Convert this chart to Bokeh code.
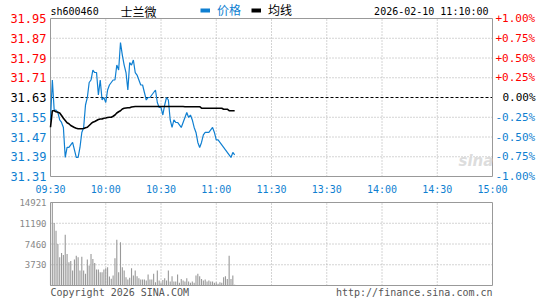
from bokeh.plotting import figure
from bokeh.models import (Range1d, FixedTicker, LinearAxis, Label, Legend, LegendItem)
from bokeh.embed import file_html
from bokeh.resources import INLINE

# ---------------- data ----------------
stock_code = "sh600460"
stock_name = "士兰微"
timestamp = "2026-02-10 11:10:00"
prev_close = 31.63

price_tick_labels = ["31.95", "31.87", "31.79", "31.71", "31.63", "31.55", "31.47", "31.39", "31.31"]
pct_tick_labels = ["+1.00%", "+0.75%", "+0.50%", "+0.25%", "0.00%", "-0.25%", "-0.50%", "-0.75%", "-1.00%"]
time_tick_minutes = [0, 30, 60, 90, 120, 150, 180, 210, 240]
time_tick_labels = ["09:30", "10:00", "10:30", "11:00", "11:30", "13:30", "14:00", "14:30", "15:00"]
vol_tick_values = [3730, 7460, 11190, 14921]

minutes = list(range(101))

prices = [31.54, 31.70, 31.58, 31.58, 31.57, 31.54, 31.53, 31.51, 31.39, 31.43,
          31.43, 31.44, 31.45, 31.42, 31.39, 31.39, 31.43, 31.49, 31.51, 31.60,
          31.63, 31.69, 31.70, 31.74, 31.73, 31.73, 31.64, 31.70, 31.62, 31.63,
          31.61, 31.66, 31.68, 31.69, 31.70, 31.70, 31.76, 31.74, 31.85, 31.80,
          31.76, 31.73, 31.66, 31.77, 31.76, 31.78, 31.73, 31.72, 31.70, 31.68,
          31.68, 31.65, 31.62, 31.63, 31.63, 31.64, 31.65, 31.66, 31.61, 31.59,
          31.59, 31.56, 31.60, 31.63, 31.62, 31.54, 31.51, 31.54, 31.53, 31.53,
          31.52, 31.51, 31.53, 31.55, 31.57, 31.55, 31.56, 31.54, 31.51, 31.49,
          31.45, 31.43, 31.45, 31.48, 31.49, 31.49, 31.49, 31.50, 31.51, 31.49,
          31.46, 31.46, 31.45, 31.44, 31.43, 31.42, 31.41, 31.40, 31.39, 31.41,
          31.40]

avg_prices = [31.511, 31.577, 31.577, 31.573, 31.571, 31.568, 31.558, 31.547, 31.538, 31.529,
              31.525, 31.518, 31.514, 31.510, 31.507, 31.505, 31.505, 31.505, 31.506, 31.509,
              31.511, 31.518, 31.525, 31.531, 31.534, 31.538, 31.542, 31.544, 31.544, 31.547,
              31.548, 31.550, 31.551, 31.551, 31.555, 31.560, 31.568, 31.573, 31.577, 31.584,
              31.587, 31.588, 31.589, 31.589, 31.592, 31.593, 31.594, 31.594, 31.594, 31.594,
              31.594, 31.594, 31.594, 31.594, 31.594, 31.594, 31.594, 31.594, 31.594, 31.594,
              31.594, 31.594, 31.594, 31.594, 31.594, 31.594, 31.594, 31.594, 31.594, 31.594,
              31.594, 31.594, 31.594, 31.593, 31.593, 31.593, 31.593, 31.593, 31.593, 31.593,
              31.593, 31.593, 31.587, 31.587, 31.587, 31.587, 31.587, 31.587, 31.587, 31.587,
              31.587, 31.587, 31.587, 31.587, 31.583, 31.583, 31.583, 31.577, 31.577, 31.577,
              31.577]

volumes = [4660, 14921, 11220, 9850, 7460, 5070, 5850, 5490, 9130, 5670,
           4180, 4420, 2690, 4660, 5370, 5070, 2690, 5190, 2690, 2090,
           4660, 3580, 5670, 4780, 4060, 2870, 2870, 2390, 2390, 2870,
           3100, 3280, 1610, 1200, 1790, 4900, 8240, 2390, 7760, 3280,
           2690, 1490, 1070, 1400, 3100, 1790, 2690, 1670, 1310, 1070,
           1070, 1070, 900, 1970, 1070, 1070, 2090, 600, 2690, 900,
           480, 1010, 1310, 900, 2690, 720, 1670, 720, 720, 1970,
           480, 1190, 900, 720, 1310, 720, 480, 720, 480, 1790,
           2090, 1670, 1190, 900, 1070, 720, 900, 720, 720, 480,
           600, 300, 600, 480, 1490, 1670, 1190, 5370, 1190, 1790,
           120]

# ---------------- styles / geometry ----------------
BLUE = "#0f7fd1"
RED = "#ff0000"
GRID = "#a8a8a8"
BORDER = "#999999"
MONO = "DejaVu Sans Mono"
CJK = "Noto Sans CJK SC"

W, H = 545, 300
LEFT_PX, BOX_W_PX, RIGHT_PX = 50, 442, 53
PRICE_TOP_PX, PRICE_H_PX = 18, 158
VOL_H_PX, VOL_BOTTOM_PX = 83, 15

half = prev_close * 0.01
y_lo, y_hi = prev_close - half, prev_close + half
n = len(price_tick_labels)
mid = n // 2
tick_y = [y_hi - i * (y_hi - y_lo) / (n - 1) for i in range(n)]
vmax = vol_tick_values[-1]

ppm = BOX_W_PX / 240.0
upp = (y_hi - y_lo) / PRICE_H_PX
vpp = vmax / VOL_H_PX

x_range = Range1d(-LEFT_PX / ppm, 240 + RIGHT_PX / ppm)
price_range = Range1d(y_lo - (H - PRICE_TOP_PX - PRICE_H_PX) * upp, y_hi + PRICE_TOP_PX * upp)
vol_range = Range1d(-VOL_BOTTOM_PX * vpp, vmax + (H - VOL_BOTTOM_PX - VOL_H_PX) * vpp)


def style_axis(ax, color, size, standoff):
    ax.axis_line_color = None
    ax.major_tick_line_color = None
    ax.minor_tick_line_color = None
    ax.major_tick_out = 0
    ax.major_tick_in = 0
    ax.minor_tick_out = 0
    ax.major_label_text_color = color
    ax.major_label_text_font = MONO
    ax.major_label_text_font_size = size
    ax.major_label_standoff = standoff


p = figure(width=W, height=H, x_range=x_range, y_range=price_range,
           output_backend="svg", toolbar_location=None,
           x_axis_location=None, y_axis_location=None,
           min_border_left=0, min_border_right=0, min_border_top=0, min_border_bottom=0)
p.extra_y_ranges = {"vol": vol_range}
p.outline_line_color = None
p.grid.visible = False
p.background_fill_color = "white"
p.border_fill_color = "white"

# ---------------- axes ----------------
time_ax = LinearAxis(fixed_location=y_lo, ticker=FixedTicker(ticks=time_tick_minutes),
                     major_label_overrides={m: t for m, t in zip(time_tick_minutes, time_tick_labels)})
style_axis(time_ax, BLUE, "10px", 7)
p.add_layout(time_ax, "below")

groups = [(range(0, mid), RED, 3), (range(mid, mid + 1), "black", 10), (range(mid + 1, n), BLUE, 3)]
for idx, col, right_standoff in groups:
    ticks = [tick_y[i] for i in idx]
    left_ax = LinearAxis(fixed_location=0, ticker=FixedTicker(ticks=ticks),
                         major_label_overrides={tick_y[i]: price_tick_labels[i] for i in idx})
    style_axis(left_ax, col, "12px", 4)
    p.add_layout(left_ax, "left")
    right_ax = LinearAxis(fixed_location=240, ticker=FixedTicker(ticks=ticks),
                          major_label_overrides={tick_y[i]: pct_tick_labels[i] for i in idx})
    style_axis(right_ax, col, "11px", right_standoff)
    p.add_layout(right_ax, "right")

vol_ax = LinearAxis(fixed_location=0, y_range_name="vol", ticker=FixedTicker(ticks=vol_tick_values))
style_axis(vol_ax, "#888888", "9px", 4)
p.add_layout(vol_ax, "left")

# ---------------- price box ----------------
inner_y = [tick_y[i] for i in range(1, n - 1) if i != mid]
p.segment(x0=[0] * len(inner_y), x1=[240] * len(inner_y), y0=inner_y, y1=inner_y,
          line_color=GRID, line_dash="1 2", line_width=1)
inner_x = time_tick_minutes[1:-1]
p.segment(x0=inner_x, x1=inner_x, y0=[y_lo] * len(inner_x), y1=[y_hi] * len(inner_x),
          line_color=GRID, line_dash="1 2", line_width=1)
p.segment(x0=[0], x1=[240], y0=[prev_close], y1=[prev_close],
          line_color="black", line_dash="3 2", line_width=1)
p.quad(left=[0], right=[240], bottom=[y_lo], top=[y_hi], fill_alpha=0,
       line_color=BORDER, line_width=1)

p.line(minutes, prices, line_color=BLUE, line_width=1.2)
p.line(minutes, avg_prices, line_color="black", line_width=1.6)

# ---------------- volume box ----------------
inner_v = vol_tick_values[:-1]
p.segment(x0=[0] * len(inner_v), x1=[240] * len(inner_v), y0=inner_v, y1=inner_v,
          line_color=GRID, line_dash="1 2", line_width=1, y_range_name="vol")
p.segment(x0=inner_x, x1=inner_x, y0=[0] * len(inner_x), y1=[vmax] * len(inner_x),
          line_color=GRID, line_dash="1 2", line_width=1, y_range_name="vol")
p.vbar(x=minutes, top=volumes, width=0.6, fill_color="#999999", line_color=None,
       y_range_name="vol")
p.quad(left=[0], right=[240], bottom=[0], top=[vmax], fill_alpha=0,
       line_color=BORDER, line_width=1, y_range_name="vol")

# ---------------- header / footer texts ----------------
hy = H - 11
p.add_layout(Label(x=LEFT_PX, y=hy, x_units="screen", y_units="screen", text=stock_code,
                   text_font=MONO, text_font_size="10px", text_baseline="middle",
                   text_color="black"))
p.add_layout(Label(x=120, y=hy, x_units="screen", y_units="screen", text=stock_name,
                   text_font=CJK, text_font_size="12px", text_baseline="middle",
                   text_color="black"))
p.add_layout(Label(x=488, y=hy, x_units="screen", y_units="screen", text=timestamp,
                   text_font=MONO, text_font_size="10px", text_baseline="middle",
                   text_align="right", text_color="black"))

leg_price = p.line(minutes, prices, line_color=BLUE, line_width=4, visible=False)
leg_avg = p.line(minutes, avg_prices, line_color="black", line_width=4, visible=False)
for rend, lab, col, xpos in [(leg_price, "价格", BLUE, 200), (leg_avg, "均线", "black", 251)]:
    lg = Legend(items=[LegendItem(label=lab, renderers=[rend])], location=(xpos, H - 18),
                orientation="horizontal", border_line_alpha=0, background_fill_alpha=0,
                padding=0, margin=0, glyph_width=10, glyph_height=12, label_height=12,
                label_standoff=7, label_text_font=CJK, label_text_font_size="12px",
                label_text_color=col, inactive_fill_alpha=0)
    p.add_layout(lg)

p.add_layout(Label(x=458, y=H - 160, x_units="screen", y_units="screen", text="sina",
                   text_font="DejaVu Sans", text_font_style="bold italic",
                   text_font_size="15px", text_baseline="middle",
                   text_color="#d4d4d4", text_alpha=0.8))

p.add_layout(Label(x=LEFT_PX, y=8, x_units="screen", y_units="screen",
                   text="Copyright 2026 SINA.COM", text_font=MONO, text_font_size="10px",
                   text_baseline="middle", text_color="#555555"))
p.add_layout(Label(x=LEFT_PX + BOX_W_PX, y=8, x_units="screen", y_units="screen",
                   text="http://finance.sina.com.cn", text_font=MONO, text_font_size="10px",
                   text_baseline="middle", text_align="right", text_color="#555555"))

open("out.html", "w").write(file_html(p, INLINE))
